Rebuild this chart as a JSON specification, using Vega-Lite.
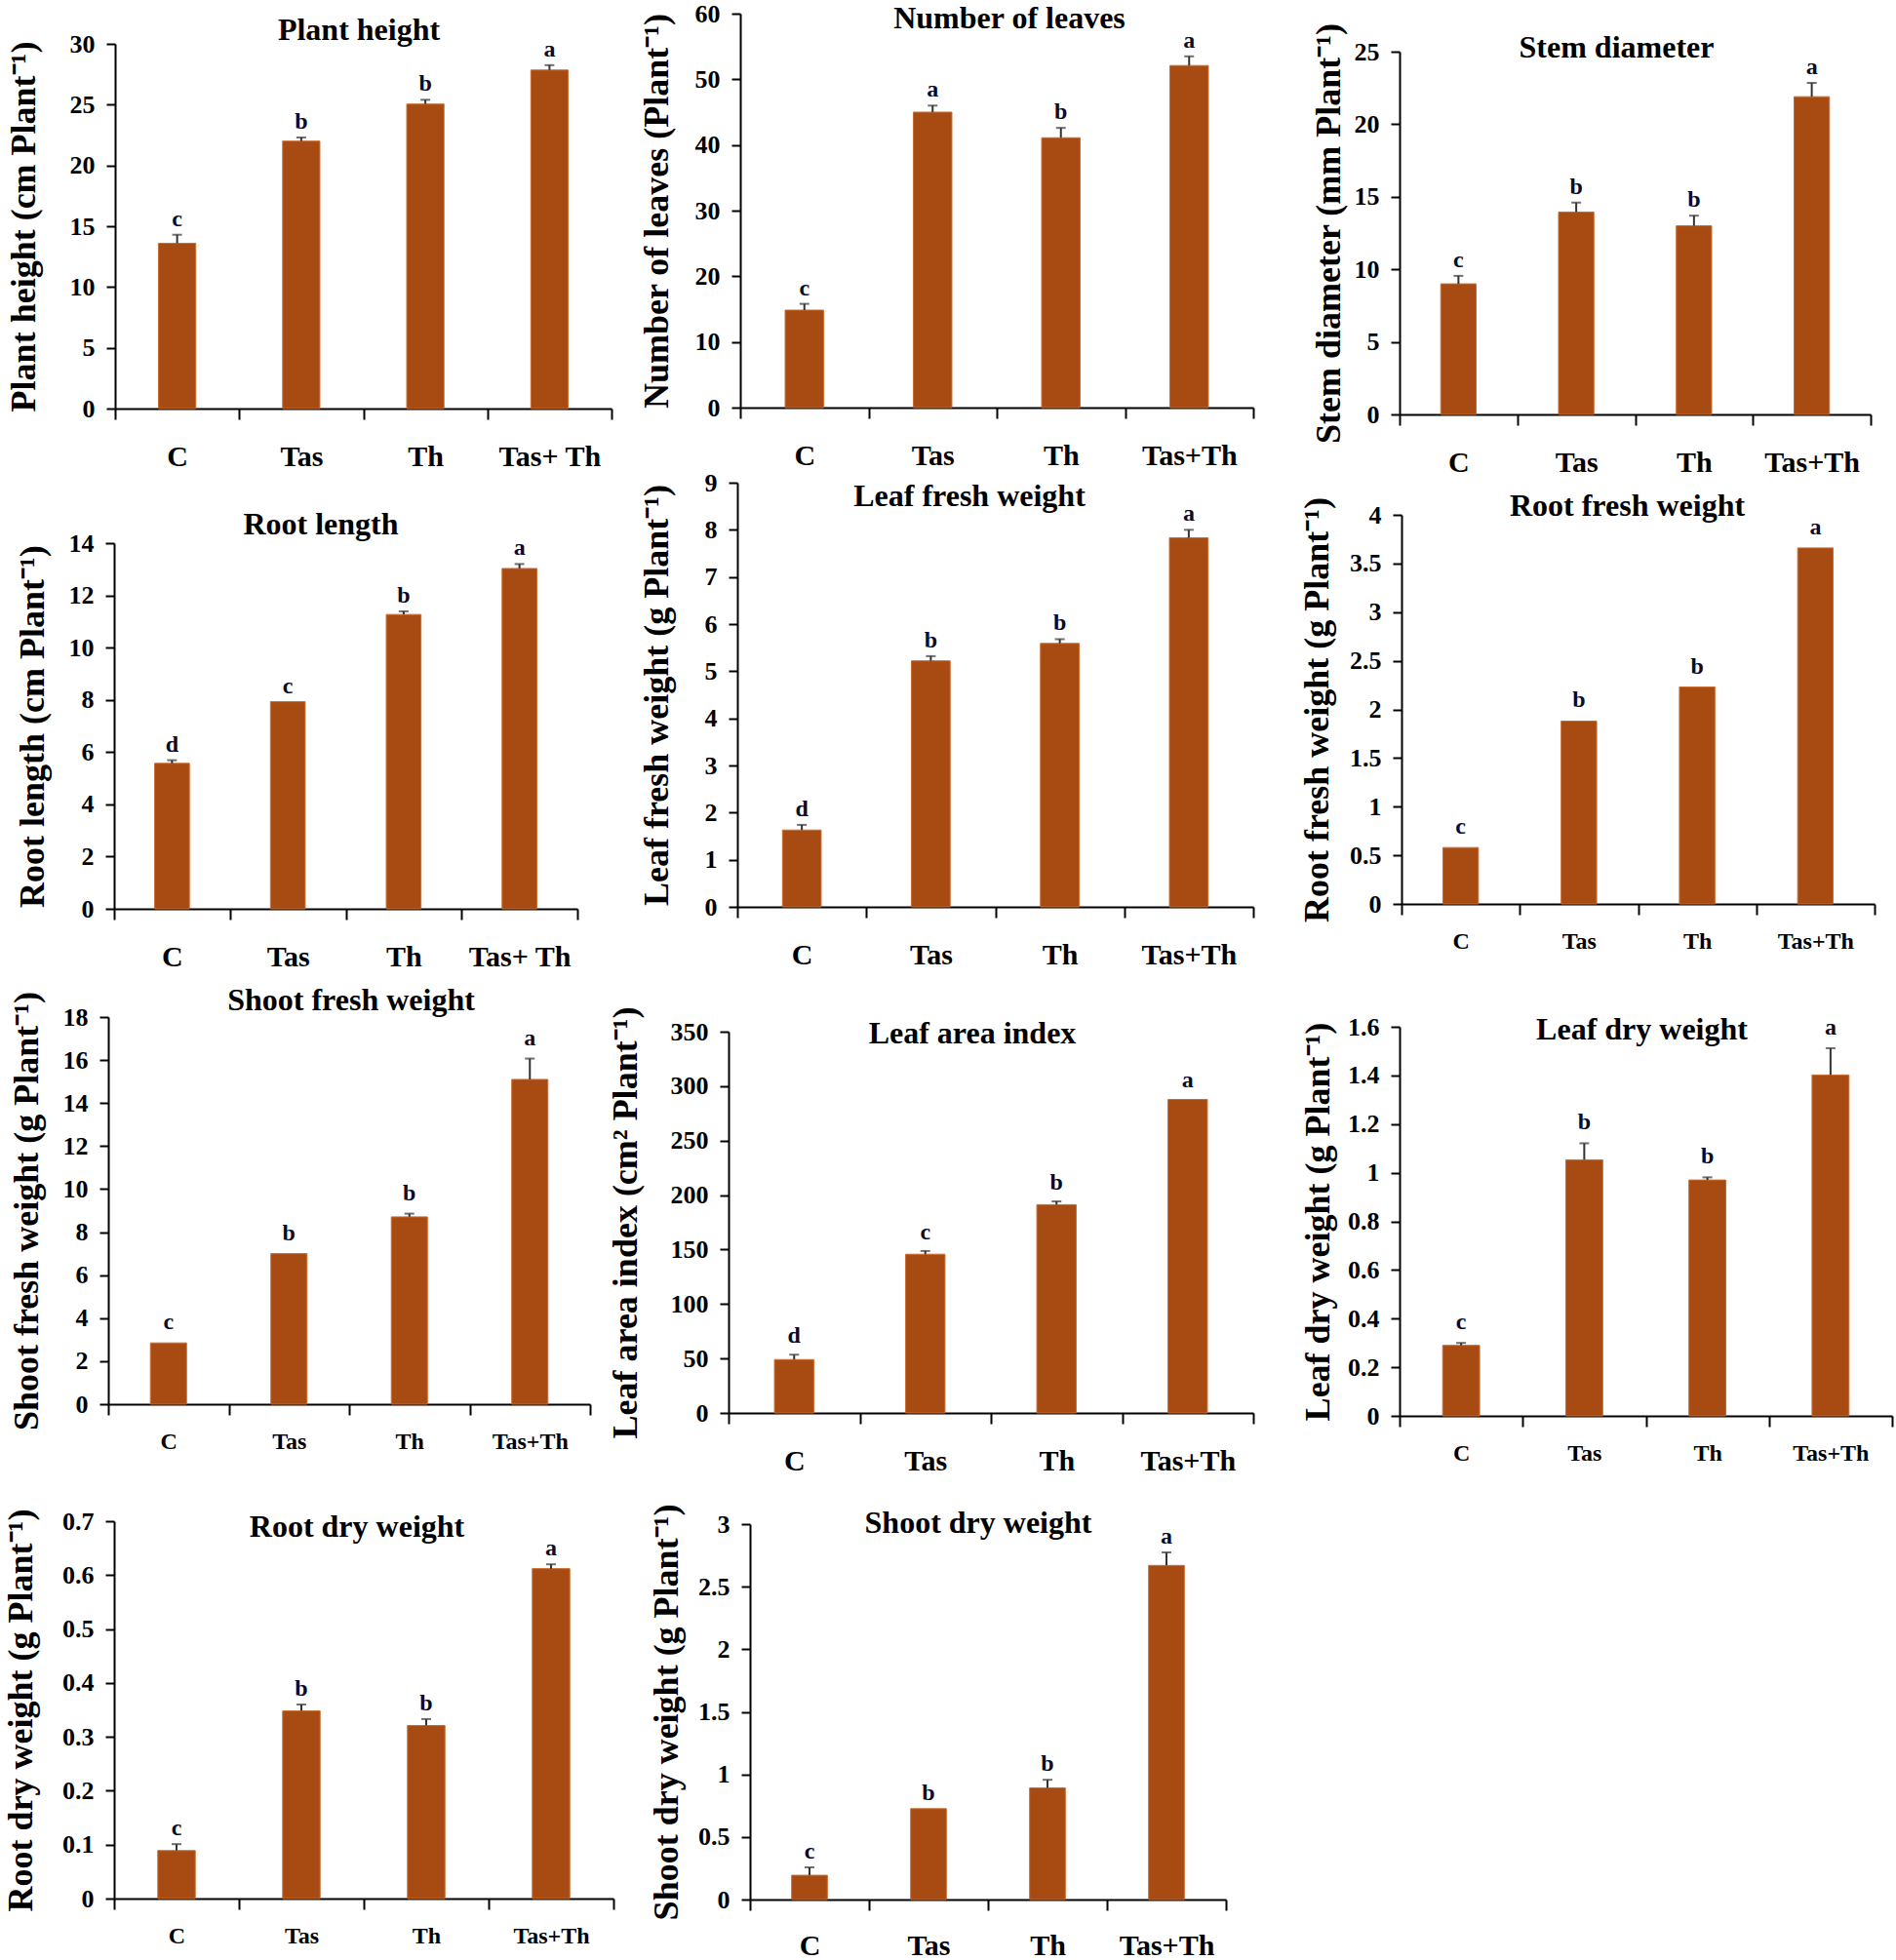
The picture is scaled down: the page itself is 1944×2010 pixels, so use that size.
{
  "$schema": "https://vega.github.io/schema/vega-lite/v6.json",
  "autosize": {"type": "none"},
  "padding": {"left": 111, "top": 14, "right": 1833, "bottom": 1996},
  "background": "white",
  "data": {"values": [
    {"panel": "ph", "trt": "C", "value": 13.6, "hi": 14.3, "letter": "c"},
    {"panel": "ph", "trt": "Tas", "value": 22.0, "hi": 22.3, "letter": "b"},
    {"panel": "ph", "trt": "Th", "value": 25.05, "hi": 25.4, "letter": "b"},
    {"panel": "ph", "trt": "Tas+ Th", "value": 27.85, "hi": 28.25, "letter": "a"},
    {"panel": "nl", "trt": "C", "value": 14.85, "hi": 15.8, "letter": "c"},
    {"panel": "nl", "trt": "Tas", "value": 45.0, "hi": 46.0, "letter": "a"},
    {"panel": "nl", "trt": "Th", "value": 41.1, "hi": 42.6, "letter": "b"},
    {"panel": "nl", "trt": "Tas+Th", "value": 52.1, "hi": 53.5, "letter": "a"},
    {"panel": "sd", "trt": "C", "value": 9.0, "hi": 9.55, "letter": "c"},
    {"panel": "sd", "trt": "Tas", "value": 13.95, "hi": 14.6, "letter": "b"},
    {"panel": "sd", "trt": "Th", "value": 13.0, "hi": 13.7, "letter": "b"},
    {"panel": "sd", "trt": "Tas+Th", "value": 21.9, "hi": 22.85, "letter": "a"},
    {"panel": "rl", "trt": "C", "value": 5.57, "hi": 5.69, "letter": "d"},
    {"panel": "rl", "trt": "Tas", "value": 7.93, "hi": 7.93, "letter": "c"},
    {"panel": "rl", "trt": "Th", "value": 11.27, "hi": 11.39, "letter": "b"},
    {"panel": "rl", "trt": "Tas+ Th", "value": 13.03, "hi": 13.2, "letter": "a"},
    {"panel": "lfw", "trt": "C", "value": 1.63, "hi": 1.74, "letter": "d"},
    {"panel": "lfw", "trt": "Tas", "value": 5.22, "hi": 5.32, "letter": "b"},
    {"panel": "lfw", "trt": "Th", "value": 5.59, "hi": 5.68, "letter": "b"},
    {"panel": "lfw", "trt": "Tas+Th", "value": 7.83, "hi": 8.0, "letter": "a"},
    {"panel": "rfw", "trt": "C", "value": 0.58, "hi": 0.58, "letter": "c"},
    {"panel": "rfw", "trt": "Tas", "value": 1.88, "hi": 1.88, "letter": "b"},
    {"panel": "rfw", "trt": "Th", "value": 2.23, "hi": 2.23, "letter": "b"},
    {"panel": "rfw", "trt": "Tas+Th", "value": 3.66, "hi": 3.66, "letter": "a"},
    {"panel": "sfw", "trt": "C", "value": 2.85, "hi": 2.85, "letter": "c"},
    {"panel": "sfw", "trt": "Tas", "value": 7.0, "hi": 7.0, "letter": "b"},
    {"panel": "sfw", "trt": "Th", "value": 8.71, "hi": 8.86, "letter": "b"},
    {"panel": "sfw", "trt": "Tas+Th", "value": 15.1, "hi": 16.07, "letter": "a"},
    {"panel": "lai", "trt": "C", "value": 49.0, "hi": 53.5, "letter": "d"},
    {"panel": "lai", "trt": "Tas", "value": 145.7, "hi": 148.7, "letter": "c"},
    {"panel": "lai", "trt": "Th", "value": 191.2, "hi": 194.2, "letter": "b"},
    {"panel": "lai", "trt": "Tas+Th", "value": 287.8, "hi": 287.8, "letter": "a"},
    {"panel": "ldw", "trt": "C", "value": 0.29, "hi": 0.3, "letter": "c"},
    {"panel": "ldw", "trt": "Tas", "value": 1.053, "hi": 1.121, "letter": "b"},
    {"panel": "ldw", "trt": "Th", "value": 0.97, "hi": 0.981, "letter": "b"},
    {"panel": "ldw", "trt": "Tas+Th", "value": 1.402, "hi": 1.512, "letter": "a"},
    {"panel": "rdw", "trt": "C", "value": 0.089, "hi": 0.101, "letter": "c"},
    {"panel": "rdw", "trt": "Tas", "value": 0.348, "hi": 0.36, "letter": "b"},
    {"panel": "rdw", "trt": "Th", "value": 0.321, "hi": 0.333, "letter": "b"},
    {"panel": "rdw", "trt": "Tas+Th", "value": 0.612, "hi": 0.62, "letter": "a"},
    {"panel": "sdw", "trt": "C", "value": 0.194, "hi": 0.257, "letter": "c"},
    {"panel": "sdw", "trt": "Tas", "value": 0.726, "hi": 0.726, "letter": "b"},
    {"panel": "sdw", "trt": "Th", "value": 0.892, "hi": 0.957, "letter": "b"},
    {"panel": "sdw", "trt": "Tas+Th", "value": 2.67, "hi": 2.774, "letter": "a"}
  ]},
  "columns": 3,
  "align": "none",
  "bounds": "flush",
  "spacing": 0,
  "concat": [
    {
      "width": 636, "height": 405,
      "title": {"text": "Plant height", "dx": -61, "offset": -34},
      "transform": [{"filter": "datum.panel === 'ph'"}],
      "encoding": {"x": {"field": "trt", "type": "nominal", "sort": null, "title": null, "scale": {"range": [7, 516], "paddingInner": 0, "paddingOuter": 0}, "axis": {"labelFontSize": 30, "labelPadding": 23}}},
      "layer": [
        {"mark": {"type": "bar", "width": {"band": 0.3}, "color": "#A84B13", "stroke": "#C96B2E", "strokeWidth": 1},
         "encoding": {"y": {"field": "value", "type": "quantitative", "title": "Plant height (cm Plant⁻¹)", "scale": {"domain": [0, 30], "nice": false, "range": [405, 31]}, "axis": {"values": [0, 5, 10, 15, 20, 25, 30], "format": "~f", "titlePadding": 28, "offset": -7}}}},
        {"transform": [{"filter": "datum.hi > datum.value"}], "mark": {"type": "rule", "color": "#333333", "strokeWidth": 2}, "encoding": {"y": {"field": "value", "type": "quantitative"}, "y2": {"field": "hi"}}},
        {"transform": [{"filter": "datum.hi > datum.value"}], "mark": {"type": "tick", "color": "#333333", "thickness": 2, "size": 10}, "encoding": {"y": {"field": "hi", "type": "quantitative"}}},
        {"mark": {"type": "text", "font": "Liberation Serif", "fontWeight": "bold", "fontSize": 24, "color": "#0a0a2a", "baseline": "alphabetic", "dy": -9}, "encoding": {"y": {"field": "hi", "type": "quantitative"}, "text": {"field": "letter"}}}
      ]
    },
    {
      "width": 688, "height": 404,
      "title": {"text": "Number of leaves", "dx": -56, "offset": -35},
      "transform": [{"filter": "datum.panel === 'nl'"}],
      "encoding": {"x": {"field": "trt", "type": "nominal", "sort": null, "title": null, "scale": {"range": [12, 538], "paddingInner": 0, "paddingOuter": 0}, "axis": {"labelFontSize": 30, "labelPadding": 23}}},
      "layer": [
        {"mark": {"type": "bar", "width": {"band": 0.3}, "color": "#A84B13", "stroke": "#C96B2E", "strokeWidth": 1},
         "encoding": {"y": {"field": "value", "type": "quantitative", "title": "Number of leaves (Plant⁻¹)", "scale": {"domain": [0, 60], "nice": false, "range": [404, 0]}, "axis": {"values": [0, 10, 20, 30, 40, 50, 60], "format": "~f", "titlePadding": 20, "offset": -12}}}},
        {"transform": [{"filter": "datum.hi > datum.value"}], "mark": {"type": "rule", "color": "#333333", "strokeWidth": 2}, "encoding": {"y": {"field": "value", "type": "quantitative"}, "y2": {"field": "hi"}}},
        {"transform": [{"filter": "datum.hi > datum.value"}], "mark": {"type": "tick", "color": "#333333", "thickness": 2, "size": 10}, "encoding": {"y": {"field": "hi", "type": "quantitative"}}},
        {"mark": {"type": "text", "font": "Liberation Serif", "fontWeight": "bold", "fontSize": 24, "color": "#0a0a2a", "baseline": "alphabetic", "dy": -9}, "encoding": {"y": {"field": "hi", "type": "quantitative"}, "text": {"field": "letter"}}}
      ]
    },
    {
      "width": 505, "height": 411,
      "title": {"text": "Stem diameter", "dx": -30, "offset": -52},
      "transform": [{"filter": "datum.panel === 'sd'"}],
      "encoding": {"x": {"field": "trt", "type": "nominal", "sort": null, "title": null, "scale": {"range": [0, 483], "paddingInner": 0, "paddingOuter": 0}, "axis": {"labelFontSize": 30, "labelPadding": 23}}},
      "layer": [
        {"mark": {"type": "bar", "width": {"band": 0.3}, "color": "#A84B13", "stroke": "#C96B2E", "strokeWidth": 1},
         "encoding": {"y": {"field": "value", "type": "quantitative", "title": "Stem diameter (mm Plant⁻¹)", "scale": {"domain": [0, 25], "nice": false, "range": [411, 39]}, "axis": {"values": [0, 5, 10, 15, 20, 25], "format": "~f", "titlePadding": 7}}}},
        {"transform": [{"filter": "datum.hi > datum.value"}], "mark": {"type": "rule", "color": "#333333", "strokeWidth": 2}, "encoding": {"y": {"field": "value", "type": "quantitative"}, "y2": {"field": "hi"}}},
        {"transform": [{"filter": "datum.hi > datum.value"}], "mark": {"type": "tick", "color": "#333333", "thickness": 2, "size": 10}, "encoding": {"y": {"field": "hi", "type": "quantitative"}}},
        {"mark": {"type": "text", "font": "Liberation Serif", "fontWeight": "bold", "fontSize": 24, "color": "#0a0a2a", "baseline": "alphabetic", "dy": -9}, "encoding": {"y": {"field": "hi", "type": "quantitative"}, "text": {"field": "letter"}}}
      ]
    },
    {
      "width": 636, "height": 507,
      "title": {"text": "Root length", "dx": -100, "offset": -130},
      "transform": [{"filter": "datum.panel === 'rl'"}],
      "encoding": {"x": {"field": "trt", "type": "nominal", "sort": null, "title": null, "scale": {"range": [6, 481], "paddingInner": 0, "paddingOuter": 0}, "axis": {"labelFontSize": 30, "labelPadding": 23}}},
      "layer": [
        {"mark": {"type": "bar", "width": {"band": 0.3}, "color": "#A84B13", "stroke": "#C96B2E", "strokeWidth": 1},
         "encoding": {"y": {"field": "value", "type": "quantitative", "title": "Root length (cm Plant⁻¹)", "scale": {"domain": [0, 14], "nice": false, "range": [507, 132]}, "axis": {"values": [0, 2, 4, 6, 8, 10, 12, 14], "format": "~f", "titlePadding": 18, "offset": -6}}}},
        {"transform": [{"filter": "datum.hi > datum.value"}], "mark": {"type": "rule", "color": "#333333", "strokeWidth": 2}, "encoding": {"y": {"field": "value", "type": "quantitative"}, "y2": {"field": "hi"}}},
        {"transform": [{"filter": "datum.hi > datum.value"}], "mark": {"type": "tick", "color": "#333333", "thickness": 2, "size": 10}, "encoding": {"y": {"field": "hi", "type": "quantitative"}}},
        {"mark": {"type": "text", "font": "Liberation Serif", "fontWeight": "bold", "fontSize": 24, "color": "#0a0a2a", "baseline": "alphabetic", "dy": -9}, "encoding": {"y": {"field": "hi", "type": "quantitative"}, "text": {"field": "letter"}}}
      ]
    },
    {
      "width": 688, "height": 505,
      "title": {"text": "Leaf fresh weight", "dx": -97, "offset": -101},
      "transform": [{"filter": "datum.panel === 'lfw'"}],
      "encoding": {"x": {"field": "trt", "type": "nominal", "sort": null, "title": null, "scale": {"range": [9, 538], "paddingInner": 0, "paddingOuter": 0}, "axis": {"labelFontSize": 30, "labelPadding": 23}}},
      "layer": [
        {"mark": {"type": "bar", "width": {"band": 0.3}, "color": "#A84B13", "stroke": "#C96B2E", "strokeWidth": 1},
         "encoding": {"y": {"field": "value", "type": "quantitative", "title": "Leaf fresh weight (g Plant⁻¹)", "scale": {"domain": [0, 9], "nice": false, "range": [505, 70]}, "axis": {"values": [0, 1, 2, 3, 4, 5, 6, 7, 8, 9], "format": "~f", "titlePadding": 30, "offset": -9}}}},
        {"transform": [{"filter": "datum.hi > datum.value"}], "mark": {"type": "rule", "color": "#333333", "strokeWidth": 2}, "encoding": {"y": {"field": "value", "type": "quantitative"}, "y2": {"field": "hi"}}},
        {"transform": [{"filter": "datum.hi > datum.value"}], "mark": {"type": "tick", "color": "#333333", "thickness": 2, "size": 10}, "encoding": {"y": {"field": "hi", "type": "quantitative"}}},
        {"mark": {"type": "text", "font": "Liberation Serif", "fontWeight": "bold", "fontSize": 24, "color": "#0a0a2a", "baseline": "alphabetic", "dy": -9}, "encoding": {"y": {"field": "hi", "type": "quantitative"}, "text": {"field": "letter"}}}
      ]
    },
    {
      "width": 505, "height": 502,
      "title": {"text": "Root fresh weight", "dx": -19, "offset": -111},
      "transform": [{"filter": "datum.panel === 'rfw'"}],
      "encoding": {"x": {"field": "trt", "type": "nominal", "sort": null, "title": null, "scale": {"range": [2, 487], "paddingInner": 0, "paddingOuter": 0}, "axis": {"labelFontSize": 24, "labelPadding": 15}}},
      "layer": [
        {"mark": {"type": "bar", "width": {"band": 0.3}, "color": "#A84B13", "stroke": "#C96B2E", "strokeWidth": 1},
         "encoding": {"y": {"field": "value", "type": "quantitative", "title": "Root fresh weight (g Plant⁻¹)", "scale": {"domain": [0, 4], "nice": false, "range": [502, 103]}, "axis": {"values": [0, 0.5, 1, 1.5, 2, 2.5, 3, 3.5, 4], "format": "~f", "titlePadding": 14, "offset": -2}}}},
        {"transform": [{"filter": "datum.hi > datum.value"}], "mark": {"type": "rule", "color": "#333333", "strokeWidth": 2}, "encoding": {"y": {"field": "value", "type": "quantitative"}, "y2": {"field": "hi"}}},
        {"transform": [{"filter": "datum.hi > datum.value"}], "mark": {"type": "tick", "color": "#333333", "thickness": 2, "size": 10}, "encoding": {"y": {"field": "hi", "type": "quantitative"}}},
        {"mark": {"type": "text", "font": "Liberation Serif", "fontWeight": "bold", "fontSize": 24, "color": "#0a0a2a", "baseline": "alphabetic", "dy": -14}, "encoding": {"y": {"field": "hi", "type": "quantitative"}, "text": {"field": "letter"}}}
      ]
    },
    {
      "width": 636, "height": 508,
      "title": {"text": "Shoot fresh weight", "dx": -69, "offset": -111},
      "transform": [{"filter": "datum.panel === 'sfw'"}],
      "encoding": {"x": {"field": "trt", "type": "nominal", "sort": null, "title": null, "scale": {"range": [0, 494], "paddingInner": 0, "paddingOuter": 0}, "axis": {"labelFontSize": 24, "labelPadding": 15}}},
      "layer": [
        {"mark": {"type": "bar", "width": {"band": 0.3}, "color": "#A84B13", "stroke": "#C96B2E", "strokeWidth": 1},
         "encoding": {"y": {"field": "value", "type": "quantitative", "title": "Shoot fresh weight (g Plant⁻¹)", "scale": {"domain": [0, 18], "nice": false, "range": [508, 111]}, "axis": {"values": [0, 2, 4, 6, 8, 10, 12, 14, 16, 18], "format": "~f", "titlePadding": 18}}}},
        {"transform": [{"filter": "datum.hi > datum.value"}], "mark": {"type": "rule", "color": "#333333", "strokeWidth": 2}, "encoding": {"y": {"field": "value", "type": "quantitative"}, "y2": {"field": "hi"}}},
        {"transform": [{"filter": "datum.hi > datum.value"}], "mark": {"type": "tick", "color": "#333333", "thickness": 2, "size": 10}, "encoding": {"y": {"field": "hi", "type": "quantitative"}}},
        {"mark": {"type": "text", "font": "Liberation Serif", "fontWeight": "bold", "fontSize": 24, "color": "#0a0a2a", "baseline": "alphabetic", "dy": -14}, "encoding": {"y": {"field": "hi", "type": "quantitative"}, "text": {"field": "letter"}}}
      ]
    },
    {
      "width": 688, "height": 517,
      "title": {"text": "Leaf area index", "dx": -94, "offset": -145},
      "transform": [{"filter": "datum.panel === 'lai'"}],
      "encoding": {"x": {"field": "trt", "type": "nominal", "sort": null, "title": null, "scale": {"range": [0, 538], "paddingInner": 0, "paddingOuter": 0}, "axis": {"labelFontSize": 30, "labelPadding": 23}}},
      "layer": [
        {"mark": {"type": "bar", "width": {"band": 0.3}, "color": "#A84B13", "stroke": "#C96B2E", "strokeWidth": 1},
         "encoding": {"y": {"field": "value", "type": "quantitative", "title": "Leaf area index (cm² Plant⁻¹)", "scale": {"domain": [0, 350], "nice": false, "range": [517, 126]}, "axis": {"values": [0, 50, 100, 150, 200, 250, 300, 350], "format": "~f", "titlePadding": 27}}}},
        {"transform": [{"filter": "datum.hi > datum.value"}], "mark": {"type": "rule", "color": "#333333", "strokeWidth": 2}, "encoding": {"y": {"field": "value", "type": "quantitative"}, "y2": {"field": "hi"}}},
        {"transform": [{"filter": "datum.hi > datum.value"}], "mark": {"type": "tick", "color": "#333333", "thickness": 2, "size": 10}, "encoding": {"y": {"field": "hi", "type": "quantitative"}}},
        {"mark": {"type": "text", "font": "Liberation Serif", "fontWeight": "bold", "fontSize": 24, "color": "#0a0a2a", "baseline": "alphabetic", "dy": -12}, "encoding": {"y": {"field": "hi", "type": "quantitative"}, "text": {"field": "letter"}}}
      ]
    },
    {
      "width": 505, "height": 520,
      "title": {"text": "Leaf dry weight", "dx": -4, "offset": -141},
      "transform": [{"filter": "datum.panel === 'ldw'"}],
      "encoding": {"x": {"field": "trt", "type": "nominal", "sort": null, "title": null, "scale": {"range": [0, 505], "paddingInner": 0, "paddingOuter": 0}, "axis": {"labelFontSize": 24, "labelPadding": 15}}},
      "layer": [
        {"mark": {"type": "bar", "width": {"band": 0.3}, "color": "#A84B13", "stroke": "#C96B2E", "strokeWidth": 1},
         "encoding": {"y": {"field": "value", "type": "quantitative", "title": "Leaf dry weight (g Plant⁻¹)", "scale": {"domain": [0, 1.6], "nice": false, "range": [520, 121]}, "axis": {"values": [0, 0.2, 0.4, 0.6, 0.8, 1, 1.2, 1.4, 1.6], "format": "~f", "titlePadding": 11}}}},
        {"transform": [{"filter": "datum.hi > datum.value"}], "mark": {"type": "rule", "color": "#333333", "strokeWidth": 2}, "encoding": {"y": {"field": "value", "type": "quantitative"}, "y2": {"field": "hi"}}},
        {"transform": [{"filter": "datum.hi > datum.value"}], "mark": {"type": "tick", "color": "#333333", "thickness": 2, "size": 10}, "encoding": {"y": {"field": "hi", "type": "quantitative"}}},
        {"mark": {"type": "text", "font": "Liberation Serif", "fontWeight": "bold", "fontSize": 24, "color": "#0a0a2a", "baseline": "alphabetic", "dy": -14}, "encoding": {"y": {"field": "hi", "type": "quantitative"}, "text": {"field": "letter"}}}
      ]
    },
    {
      "width": 636, "height": 495,
      "title": {"text": "Root dry weight", "dx": -63, "offset": -131},
      "transform": [{"filter": "datum.panel === 'rdw'"}],
      "encoding": {"x": {"field": "trt", "type": "nominal", "sort": null, "title": null, "scale": {"range": [6, 518], "paddingInner": 0, "paddingOuter": 0}, "axis": {"labelFontSize": 24, "labelPadding": 15}}},
      "layer": [
        {"mark": {"type": "bar", "width": {"band": 0.3}, "color": "#A84B13", "stroke": "#C96B2E", "strokeWidth": 1},
         "encoding": {"y": {"field": "value", "type": "quantitative", "title": "Root dry weight (g Plant⁻¹)", "scale": {"domain": [0, 0.7], "nice": false, "range": [495, 108]}, "axis": {"values": [0, 0.1, 0.2, 0.3, 0.4, 0.5, 0.6, 0.7], "format": "~f", "titlePadding": 23, "offset": -6}}}},
        {"transform": [{"filter": "datum.hi > datum.value"}], "mark": {"type": "rule", "color": "#333333", "strokeWidth": 2}, "encoding": {"y": {"field": "value", "type": "quantitative"}, "y2": {"field": "hi"}}},
        {"transform": [{"filter": "datum.hi > datum.value"}], "mark": {"type": "tick", "color": "#333333", "thickness": 2, "size": 10}, "encoding": {"y": {"field": "hi", "type": "quantitative"}}},
        {"mark": {"type": "text", "font": "Liberation Serif", "fontWeight": "bold", "fontSize": 24, "color": "#0a0a2a", "baseline": "alphabetic", "dy": -9}, "encoding": {"y": {"field": "hi", "type": "quantitative"}, "text": {"field": "letter"}}}
      ]
    },
    {
      "width": 688, "height": 496,
      "title": {"text": "Shoot dry weight", "dx": -88, "offset": -127},
      "transform": [{"filter": "datum.panel === 'sdw'"}],
      "encoding": {"x": {"field": "trt", "type": "nominal", "sort": null, "title": null, "scale": {"range": [22, 510], "paddingInner": 0, "paddingOuter": 0}, "axis": {"labelFontSize": 30, "labelPadding": 21}}},
      "layer": [
        {"mark": {"type": "bar", "width": {"band": 0.3}, "color": "#A84B13", "stroke": "#C96B2E", "strokeWidth": 1},
         "encoding": {"y": {"field": "value", "type": "quantitative", "title": "Shoot dry weight (g Plant⁻¹)", "scale": {"domain": [0, 3], "nice": false, "range": [496, 111]}, "axis": {"values": [0, 0.5, 1, 1.5, 2, 2.5, 3], "format": "~f", "titlePadding": 13, "offset": -22}}}},
        {"transform": [{"filter": "datum.hi > datum.value"}], "mark": {"type": "rule", "color": "#333333", "strokeWidth": 2}, "encoding": {"y": {"field": "value", "type": "quantitative"}, "y2": {"field": "hi"}}},
        {"transform": [{"filter": "datum.hi > datum.value"}], "mark": {"type": "tick", "color": "#333333", "thickness": 2, "size": 10}, "encoding": {"y": {"field": "hi", "type": "quantitative"}}},
        {"mark": {"type": "text", "font": "Liberation Serif", "fontWeight": "bold", "fontSize": 24, "color": "#0a0a2a", "baseline": "alphabetic", "dy": -9}, "encoding": {"y": {"field": "hi", "type": "quantitative"}, "text": {"field": "letter"}}}
      ]
    }
  ],
  "config": {
    "view": {"stroke": null},
    "font": "Liberation Serif",
    "axis": {"domainColor": "#000000", "domainWidth": 2, "tickColor": "#000000", "tickWidth": 2, "labelColor": "#000000", "labelFont": "Liberation Serif", "labelFontWeight": "bold", "titleFont": "Liberation Serif", "titleFontWeight": "bold", "titleColor": "#000000", "grid": false, "titleLimit": 2000, "labelLimit": 400},
    "axisY": {"tickSize": 9, "labelPadding": 12, "labelFontSize": 26, "titleFontSize": 36},
    "axisX": {"tickSize": 11, "labelAngle": 0, "tickBand": "extent"},
    "title": {"font": "Liberation Serif", "fontSize": 32, "fontWeight": "bold", "color": "#000000", "anchor": "middle", "frame": "group"}
  }
}
